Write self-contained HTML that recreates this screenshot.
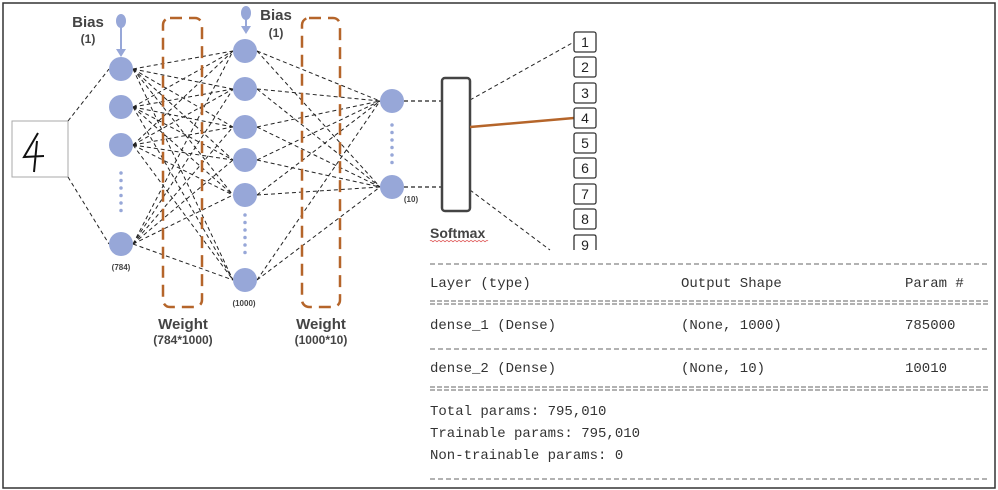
<!DOCTYPE html>
<html><head><meta charset="utf-8"><style>
html,body{margin:0;padding:0;background:#fff;width:998px;height:490px;overflow:hidden}
svg{display:block}
.s{font-family:"Liberation Sans",Arial,sans-serif;font-weight:bold;fill:#444}
.m{font-family:"Liberation Mono","DejaVu Sans Mono",monospace;font-size:14px;fill:#333}
</style></head><body>
<svg width="998" height="490" viewBox="0 0 998 490" xmlns="http://www.w3.org/2000/svg">
<rect x="3" y="3" width="992" height="485" fill="#fff" stroke="#333" stroke-width="1.5"/>
<rect x="12" y="121" width="56" height="56" fill="#fff" stroke="#aaa" stroke-width="1"/>
<path d="M38 133 L24 157 L44 156 M37 141 L34 172" stroke="#111" stroke-width="2" fill="none"/>
<g stroke="#222" stroke-width="1" stroke-dasharray="4,3" fill="none">
<line x1="68" y1="121" x2="109" y2="69"/><line x1="68" y1="177" x2="109" y2="244"/>
<line x1="133" y1="69" x2="233" y2="51"/><line x1="133" y1="69" x2="233" y2="89"/><line x1="133" y1="69" x2="233" y2="127"/><line x1="133" y1="69" x2="233" y2="160"/><line x1="133" y1="69" x2="233" y2="195"/><line x1="133" y1="69" x2="233" y2="280"/>
<line x1="133" y1="107" x2="233" y2="51"/><line x1="133" y1="107" x2="233" y2="89"/><line x1="133" y1="107" x2="233" y2="127"/><line x1="133" y1="107" x2="233" y2="160"/><line x1="133" y1="107" x2="233" y2="195"/><line x1="133" y1="107" x2="233" y2="280"/>
<line x1="133" y1="145" x2="233" y2="51"/><line x1="133" y1="145" x2="233" y2="89"/><line x1="133" y1="145" x2="233" y2="127"/><line x1="133" y1="145" x2="233" y2="160"/><line x1="133" y1="145" x2="233" y2="195"/><line x1="133" y1="145" x2="233" y2="280"/>
<line x1="133" y1="244" x2="233" y2="51"/><line x1="133" y1="244" x2="233" y2="89"/><line x1="133" y1="244" x2="233" y2="127"/><line x1="133" y1="244" x2="233" y2="160"/><line x1="133" y1="244" x2="233" y2="195"/><line x1="133" y1="244" x2="233" y2="280"/>
<line x1="257" y1="51" x2="380" y2="101"/><line x1="257" y1="51" x2="380" y2="187"/>
<line x1="257" y1="89" x2="380" y2="101"/><line x1="257" y1="89" x2="380" y2="187"/>
<line x1="257" y1="127" x2="380" y2="101"/><line x1="257" y1="127" x2="380" y2="187"/>
<line x1="257" y1="160" x2="380" y2="101"/><line x1="257" y1="160" x2="380" y2="187"/>
<line x1="257" y1="195" x2="380" y2="101"/><line x1="257" y1="195" x2="380" y2="187"/>
<line x1="257" y1="280" x2="380" y2="101"/><line x1="257" y1="280" x2="380" y2="187"/>
<line x1="404" y1="101" x2="442" y2="101" stroke-width="1.3"/><line x1="404" y1="187" x2="442" y2="187" stroke-width="1.3"/>
<line x1="470" y1="100" x2="574" y2="42"/><line x1="470" y1="190" x2="550" y2="250"/>
</g>
<rect x="163" y="18" width="39" height="289" rx="7" fill="none" stroke="#b5652a" stroke-width="2.5" stroke-dasharray="12,7"/>
<rect x="302" y="18" width="38" height="289" rx="7" fill="none" stroke="#b5652a" stroke-width="2.5" stroke-dasharray="12,7"/>
<g fill="#97a7d8">
<circle cx="121" cy="69" r="12"/><circle cx="121" cy="107" r="12"/><circle cx="121" cy="145" r="12"/><circle cx="121" cy="244" r="12"/>
<circle cx="245" cy="51" r="12"/><circle cx="245" cy="89" r="12"/><circle cx="245" cy="127" r="12"/><circle cx="245" cy="160" r="12"/><circle cx="245" cy="195" r="12"/><circle cx="245" cy="280" r="12"/>
<circle cx="392" cy="101" r="12"/><circle cx="392" cy="187" r="12"/>
<ellipse cx="121" cy="21" rx="5" ry="7"/><ellipse cx="246" cy="13" rx="5" ry="7"/>
<path d="M116 49 L126 49 L121 57 Z"/><path d="M241 26 L251 26 L246 34 Z"/>
</g>
<g stroke="#97a7d8" stroke-width="2"><line x1="121" y1="27" x2="121" y2="50"/><line x1="246" y1="19" x2="246" y2="27"/></g>
<g stroke="#97a7d8" stroke-width="3.5" stroke-linecap="round" stroke-dasharray="0,7.5">
<line x1="121" y1="173" x2="121" y2="216"/><line x1="245" y1="215" x2="245" y2="258"/><line x1="392" y1="125" x2="392" y2="167"/>
</g>
<text class="s" x="88" y="27" font-size="15" text-anchor="middle">Bias</text>
<text class="s" x="88" y="43" font-size="12" text-anchor="middle">(1)</text>
<text class="s" x="276" y="20" font-size="15" text-anchor="middle">Bias</text>
<text class="s" x="276" y="37" font-size="12" text-anchor="middle">(1)</text>
<text class="s" x="121" y="270" font-size="8" text-anchor="middle">(784)</text>
<text class="s" x="244" y="306" font-size="8" text-anchor="middle">(1000)</text>
<text class="s" x="411" y="202" font-size="8" text-anchor="middle">(10)</text>
<text class="s" x="183" y="329" font-size="15" text-anchor="middle">Weight</text>
<text class="s" x="183" y="344" font-size="12" text-anchor="middle">(784*1000)</text>
<text class="s" x="321" y="329" font-size="15" text-anchor="middle">Weight</text>
<text class="s" x="321" y="344" font-size="12" text-anchor="middle">(1000*10)</text>
<rect x="442" y="78" width="28" height="133" rx="3" fill="#fff" stroke="#444" stroke-width="2.5"/>
<line x1="470" y1="127" x2="574" y2="118" stroke="#b5652a" stroke-width="2.5"/>
<text class="s" x="430" y="238" font-size="14">Softmax</text>
<path d="M430 241 q1 -1.5 2 0 t2 0 t2 0 t2 0 t2 0 t2 0 t2 0 t2 0 t2 0 t2 0 t2 0 t2 0 t2 0 t2 0 t2 0 t2 0 t2 0 t2 0 t2 0 t2 0 t2 0 t2 0 t2 0 t2 0 t2 0 t2 0 t2 0 t2 0 t2 0" stroke="#e06060" stroke-width="0.8" fill="none"/>
<g fill="#fff" stroke="#333" stroke-width="1.3">
<rect x="574" y="32" width="22" height="20" rx="2"/><rect x="574" y="57" width="22" height="20" rx="2"/><rect x="574" y="83" width="22" height="20" rx="2"/><rect x="574" y="108" width="22" height="20" rx="2"/><rect x="574" y="133" width="22" height="20" rx="2"/><rect x="574" y="158" width="22" height="20" rx="2"/><rect x="574" y="184" width="22" height="20" rx="2"/><rect x="574" y="209" width="22" height="20" rx="2"/><path d="M574 250 V237 q0 -2 2 -2 H594 q2 0 2 2 V250" fill="none"/>
</g>
<g font-family="Liberation Sans,Arial,sans-serif" font-size="14" fill="#222" text-anchor="middle">
<text x="585" y="47">1</text><text x="585" y="72">2</text><text x="585" y="98">3</text><text x="585" y="123">4</text><text x="585" y="148">5</text><text x="585" y="173">6</text><text x="585" y="199">7</text><text x="585" y="224">8</text><text x="585" y="250">9</text>
</g>
<g stroke="#666" stroke-width="1">
<line x1="430" y1="264" x2="990" y2="264" stroke-dasharray="5,3"/>
<line x1="430" y1="301" x2="990" y2="301" stroke-dasharray="5,2"/><line x1="430" y1="304" x2="990" y2="304" stroke-dasharray="5,2"/>
<line x1="430" y1="349" x2="990" y2="349" stroke-dasharray="5,3"/>
<line x1="430" y1="387" x2="990" y2="387" stroke-dasharray="5,2"/><line x1="430" y1="390" x2="990" y2="390" stroke-dasharray="5,2"/>
<line x1="430" y1="479" x2="990" y2="479" stroke-dasharray="5,3"/>
</g>
<text class="m" x="430" y="287">Layer (type)</text>
<text class="m" x="681" y="287">Output Shape</text>
<text class="m" x="905" y="287">Param #</text>
<text class="m" x="430" y="329">dense_1 (Dense)</text>
<text class="m" x="681" y="329">(None, 1000)</text>
<text class="m" x="905" y="329">785000</text>
<text class="m" x="430" y="372">dense_2 (Dense)</text>
<text class="m" x="681" y="372">(None, 10)</text>
<text class="m" x="905" y="372">10010</text>
<text class="m" x="430" y="415">Total params: 795,010</text>
<text class="m" x="430" y="437">Trainable params: 795,010</text>
<text class="m" x="430" y="459">Non-trainable params: 0</text>
</svg>
</body></html>
